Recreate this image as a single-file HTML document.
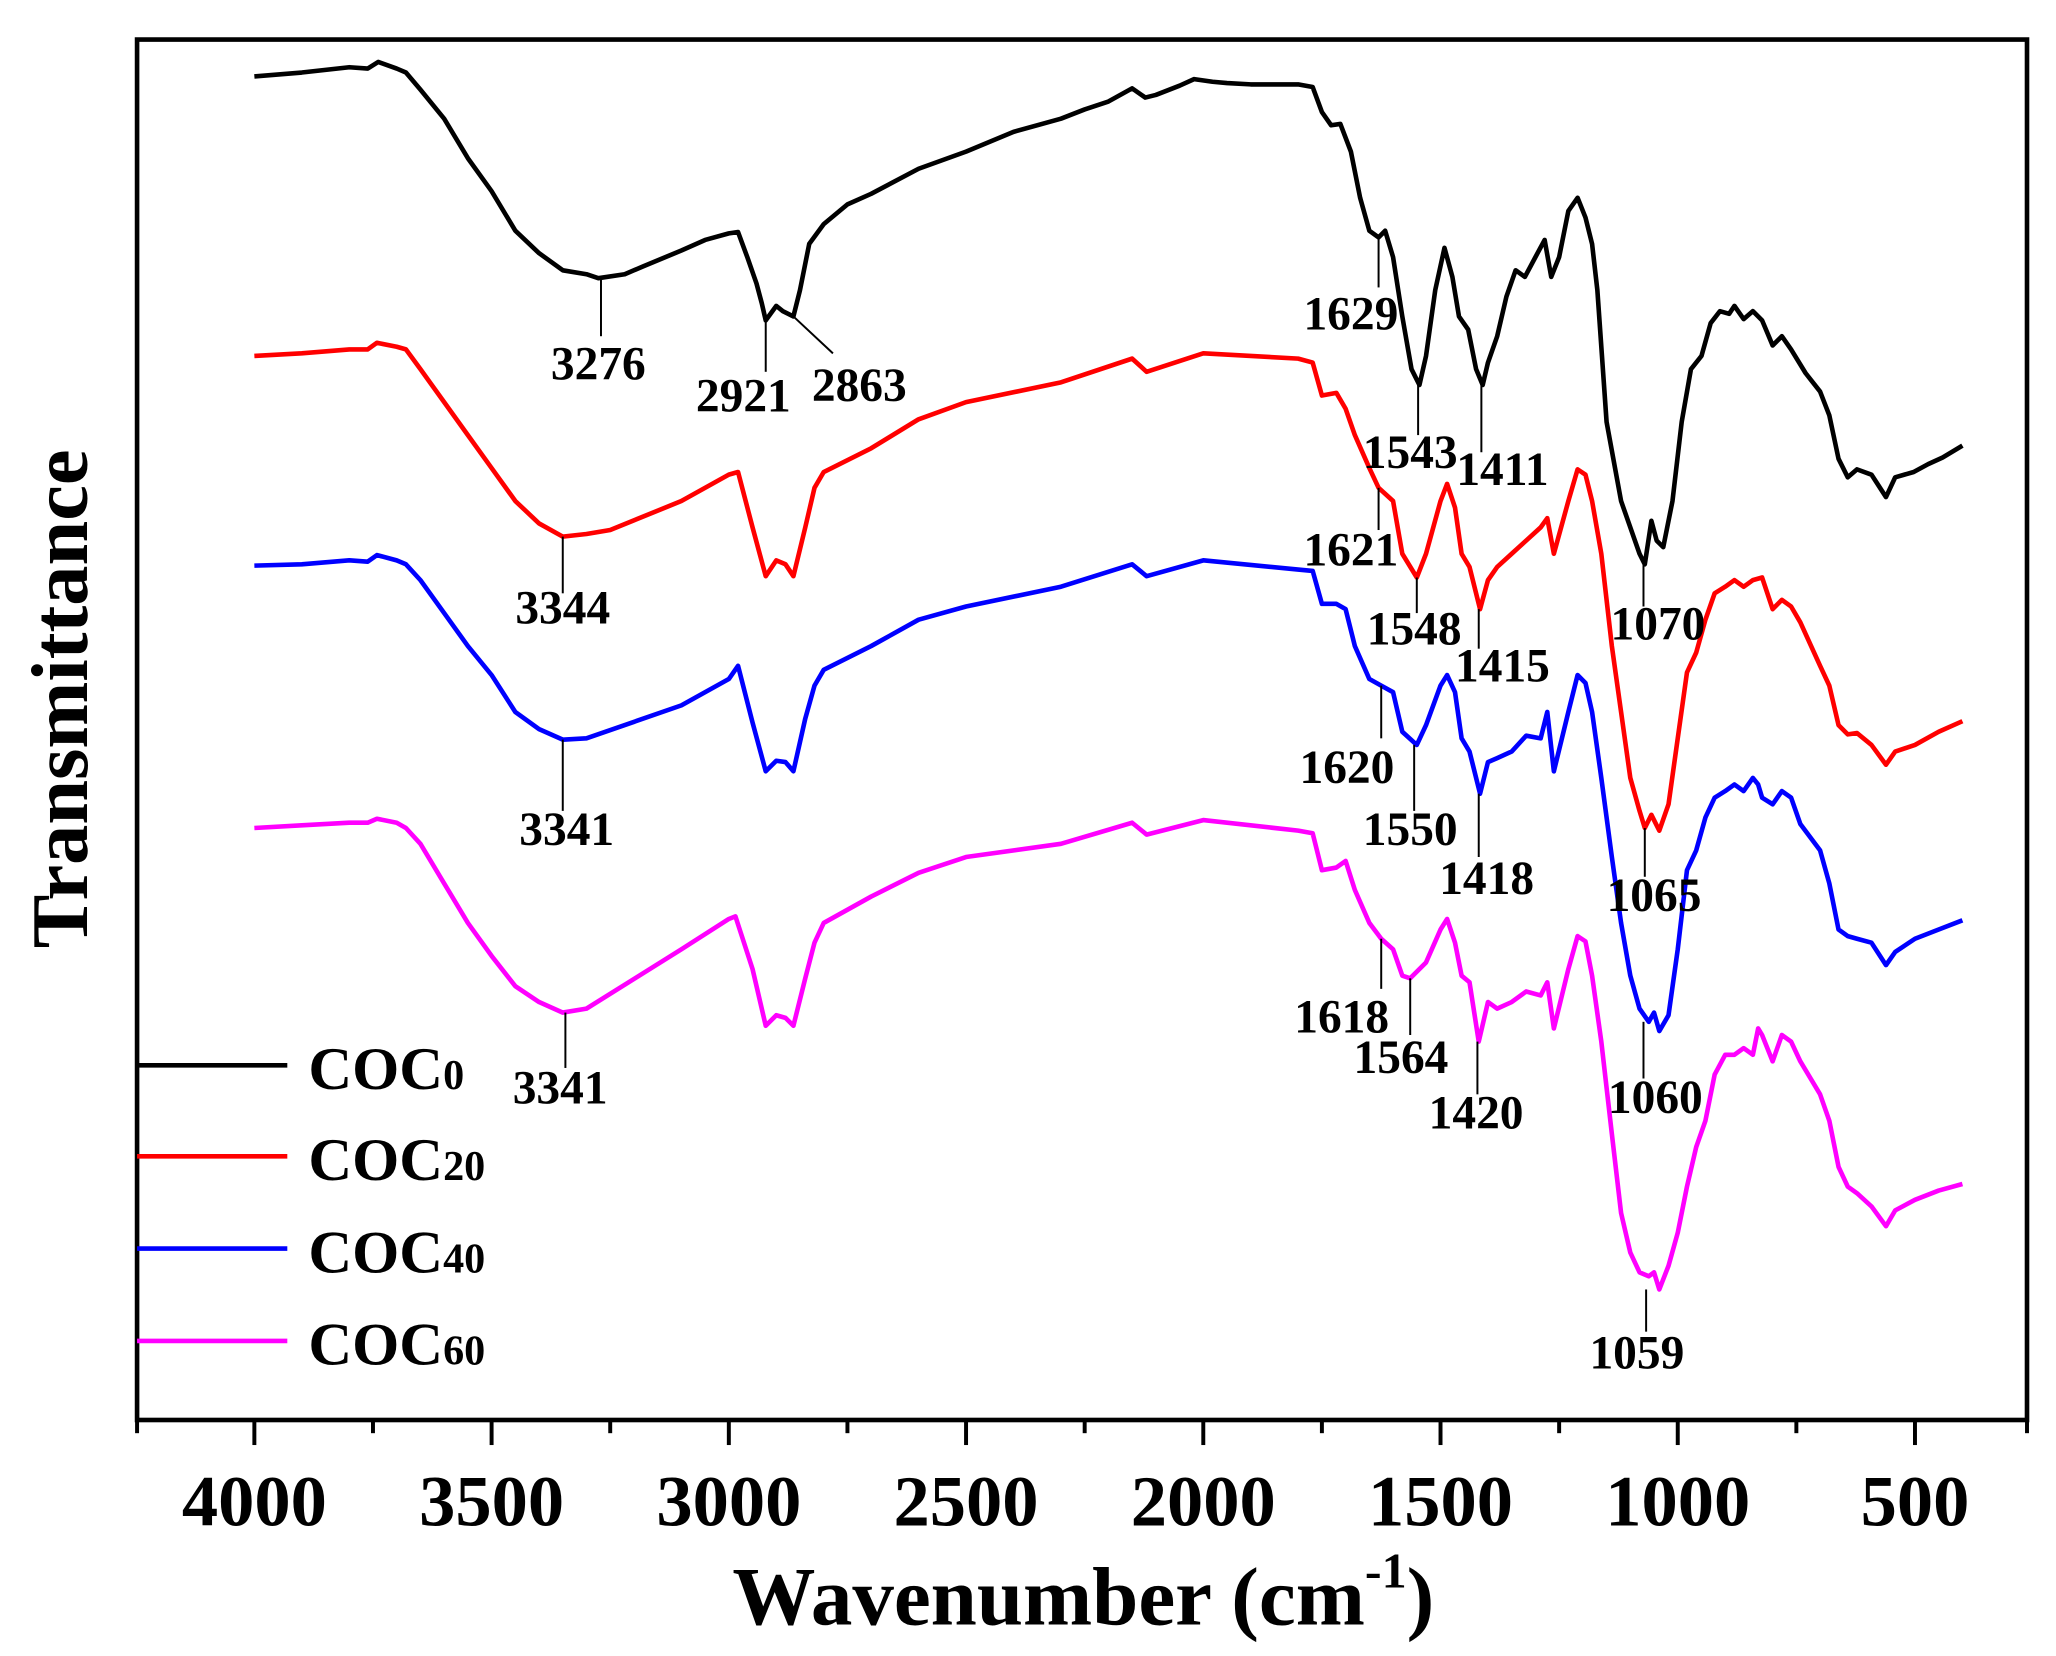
<!DOCTYPE html>
<html><head><meta charset="utf-8"><style>
html,body{margin:0;padding:0;background:#fff;}
svg{display:block;}
text{font-family:"Liberation Serif",serif;font-weight:bold;fill:#000;}
</style></head><body>
<svg width="2056" height="1656" viewBox="0 0 1560 1256" preserveAspectRatio="none" xmlns="http://www.w3.org/2000/svg">
<rect x="0" y="0" width="1560" height="1256" fill="#fff"/>
<rect x="104" y="30" width="1434" height="1047" fill="none" stroke="#000" stroke-width="3.5"/>
<g stroke="#000" stroke-width="3">
<line x1="193" y1="1077" x2="193" y2="1096"/><line x1="373" y1="1077" x2="373" y2="1096"/>
<line x1="553" y1="1077" x2="553" y2="1096"/><line x1="733" y1="1077" x2="733" y2="1096"/>
<line x1="913" y1="1077" x2="913" y2="1096"/><line x1="1093" y1="1077" x2="1093" y2="1096"/>
<line x1="1273" y1="1077" x2="1273" y2="1096"/><line x1="1453" y1="1077" x2="1453" y2="1096"/>
<line x1="104" y1="1077" x2="104" y2="1087"/><line x1="283" y1="1077" x2="283" y2="1087"/>
<line x1="463" y1="1077" x2="463" y2="1087"/><line x1="643" y1="1077" x2="643" y2="1087"/>
<line x1="823" y1="1077" x2="823" y2="1087"/><line x1="1003" y1="1077" x2="1003" y2="1087"/>
<line x1="1183" y1="1077" x2="1183" y2="1087"/><line x1="1363" y1="1077" x2="1363" y2="1087"/>
<line x1="1538" y1="1077" x2="1538" y2="1087"/>
</g>
<g font-size="55" text-anchor="middle">
<text x="193" y="1157">4000</text><text x="373" y="1157">3500</text><text x="553" y="1157">3000</text>
<text x="733" y="1157">2500</text><text x="913" y="1157">2000</text><text x="1093" y="1157">1500</text>
<text x="1273" y="1157">1000</text><text x="1453" y="1157">500</text>
</g>
<text x="822" y="1232" font-size="63" text-anchor="middle">Wavenumber (cm<tspan font-size="38" dy="-28">-1</tspan><tspan dy="28">)</tspan></text>
<text transform="translate(66,530) rotate(-90)" font-size="61" text-anchor="middle">Transmittance</text>

<g fill="none" stroke-width="3.5" stroke-linejoin="round">
<polyline stroke="#000" points="193,58 229,55 265,51 279,52 287,47 301,52 308,55 319,68 337,90 355,120 373,145 391,175 409,192 427,205 445,208 454,211 474,208 488,202 517,190 535,182 553,177 560,176 567,195 574,215 578,230 581,243 589,232 594,236 602,240 607,220 614,185 625,170 643,155 661,147 697,128 733,115 769,100 805,90 823,83 841,77 859,67 869,74 877,72 895,65 906,60 920,62 931,63 949,64 985,64 996,66 1003,85 1010,95 1017,94 1025,115 1032,150 1039,175 1046,180 1051,175 1057,195 1064,240 1071,280 1077,292 1082,270 1089,220 1096,188 1102,210 1107,240 1114,250 1120,280 1125,292 1129,275 1136,255 1143,225 1150,205 1157,210 1165,195 1172,182 1177,210 1183,195 1190,160 1197,150 1203,165 1208,185 1212,220 1219,320 1230,380 1237,400 1244,420 1248,428 1253,395 1257,410 1262,415 1269,380 1276,320 1283,280 1291,270 1298,245 1305,236 1312,238 1316,232 1323,242 1330,236 1337,243 1345,262 1352,255 1359,265 1370,283 1381,297 1388,315 1395,348 1402,362 1409,356 1420,360 1431,377 1438,362 1452,358 1463,352 1474,347 1489,338"/>
<polyline stroke="#ff0000" points="193,270 229,268 265,265 279,265 286,260 301,263 308,265 319,280 337,305 355,330 373,355 391,380 409,397 427,407 445,405 463,402 517,380 553,360 560,358 571,400 581,437 589,425 596,428 602,437 611,400 618,370 625,358 661,340 697,318 733,305 805,290 859,272 870,282 913,268 985,272 996,275 1003,300 1014,298 1021,310 1028,330 1039,355 1046,370 1057,380 1064,420 1075,438 1082,420 1093,380 1098,367 1104,385 1109,420 1115,430 1123,462 1129,440 1136,430 1147,420 1158,410 1169,400 1174,393 1179,420 1190,380 1197,356 1203,360 1208,380 1215,420 1223,490 1230,540 1237,590 1244,615 1248,628 1253,618 1259,630 1266,610 1273,560 1280,510 1287,495 1294,470 1301,450 1309,445 1316,440 1323,445 1330,440 1337,438 1345,462 1352,455 1359,460 1366,472 1381,505 1388,520 1395,550 1402,557 1409,556 1420,565 1431,580 1438,570 1453,565 1471,555 1489,547"/>
<polyline stroke="#0000ff" points="193,429 229,428 265,425 279,426 286,421 301,425 308,428 319,440 337,465 355,490 373,512 391,540 409,553 427,561 445,560 517,535 553,515 560,505 571,548 581,585 589,577 596,578 602,585 611,545 618,520 625,508 661,490 697,470 733,460 805,445 859,428 870,437 913,425 985,432 996,433 1003,458 1014,458 1021,462 1028,490 1039,515 1048,520 1057,525 1064,555 1075,565 1082,550 1093,520 1098,512 1104,525 1109,560 1115,570 1123,602 1129,578 1136,575 1147,570 1158,558 1169,560 1174,540 1179,585 1190,540 1197,512 1203,518 1208,540 1215,590 1223,650 1230,700 1237,740 1244,765 1251,775 1255,768 1259,782 1266,770 1273,720 1280,660 1287,645 1294,620 1301,605 1309,600 1316,595 1323,600 1330,590 1334,595 1337,605 1345,610 1352,600 1359,605 1366,625 1381,645 1388,670 1395,705 1402,710 1409,712 1420,715 1431,732 1438,722 1453,712 1471,705 1489,698"/>
<polyline stroke="#ff00ff" points="193,628 229,626 265,624 279,624 286,621 301,624 308,628 319,640 337,670 355,700 373,725 391,748 409,760 427,768 445,765 517,720 553,697 558,695 571,735 581,778 589,770 596,772 602,778 611,742 618,715 625,700 661,680 697,662 733,650 805,640 859,624 870,633 913,622 985,630 996,632 1003,660 1014,658 1021,653 1028,675 1039,700 1048,712 1057,720 1064,740 1070,742 1082,730 1093,705 1098,697 1104,715 1109,740 1115,745 1122,790 1129,760 1136,765 1147,760 1158,752 1169,755 1174,745 1179,780 1190,735 1197,710 1203,714 1208,740 1215,790 1223,860 1230,920 1237,950 1244,965 1251,968 1255,965 1259,978 1266,960 1273,935 1280,900 1287,870 1294,850 1301,815 1309,800 1316,800 1323,795 1330,800 1334,780 1337,785 1345,805 1352,785 1359,790 1366,805 1381,830 1388,850 1395,885 1402,900 1409,905 1420,915 1431,930 1438,918 1453,910 1471,903 1489,898"/>
</g>
<g stroke="#000" stroke-width="1.5">
<line x1="456" y1="211" x2="456" y2="255"/>
<line x1="581" y1="243" x2="581" y2="282"/>
<line x1="602" y1="240" x2="632" y2="268"/>
<line x1="1046" y1="180" x2="1046" y2="218"/>
<line x1="1076" y1="292" x2="1076" y2="330"/>
<line x1="1124" y1="292" x2="1124" y2="343"/>
<line x1="1247" y1="428" x2="1247" y2="460"/>
<line x1="427" y1="407" x2="427" y2="450"/>
<line x1="1046" y1="370" x2="1046" y2="402"/>
<line x1="1075" y1="438" x2="1075" y2="465"/>
<line x1="1122" y1="462" x2="1122" y2="492"/>
<line x1="1248" y1="628" x2="1248" y2="665"/>
<line x1="427" y1="561" x2="427" y2="615"/>
<line x1="1048" y1="520" x2="1048" y2="560"/>
<line x1="1073" y1="565" x2="1073" y2="615"/>
<line x1="1122" y1="602" x2="1122" y2="650"/>
<line x1="1247" y1="775" x2="1247" y2="818"/>
<line x1="429" y1="768" x2="429" y2="810"/>
<line x1="1048" y1="712" x2="1048" y2="750"/>
<line x1="1070" y1="742" x2="1070" y2="785"/>
<line x1="1121" y1="790" x2="1121" y2="830"/>
<line x1="1249" y1="978" x2="1249" y2="1010"/>
</g>
<g font-size="36" text-anchor="middle">
<text x="454" y="288">3276</text><text x="564" y="312">2921</text><text x="652" y="304">2863</text>
<text x="1025" y="250">1629</text><text x="1070" y="355">1543</text><text x="1140" y="368">1411</text>
<text x="1258" y="485">1070</text>
<text x="427" y="473">3344</text><text x="1025" y="429">1621</text><text x="1073" y="489">1548</text>
<text x="1140" y="517">1415</text><text x="1255" y="691">1065</text>
<text x="430" y="641">3341</text><text x="1022" y="594">1620</text><text x="1070" y="641">1550</text>
<text x="1128" y="678">1418</text><text x="1256" y="844">1060</text>
<text x="425" y="837">3341</text><text x="1018" y="783">1618</text><text x="1063" y="814">1564</text>
<text x="1120" y="856">1420</text><text x="1242" y="1038">1059</text>
</g>
<g stroke-width="3.5">
<line x1="104" y1="808" x2="218" y2="808" stroke="#000"/>
<line x1="104" y1="877" x2="218" y2="877" stroke="#ff0000"/>
<line x1="104" y1="947" x2="218" y2="947" stroke="#0000ff"/>
<line x1="104" y1="1017" x2="218" y2="1017" stroke="#ff00ff"/>
</g>
<g font-size="46">
<text x="234" y="826">COC<tspan font-size="32">0</tspan></text>
<text x="234" y="895">COC<tspan font-size="32">20</tspan></text>
<text x="234" y="965">COC<tspan font-size="32">40</tspan></text>
<text x="234" y="1035">COC<tspan font-size="32">60</tspan></text>
</g>
</svg>
</body></html>
